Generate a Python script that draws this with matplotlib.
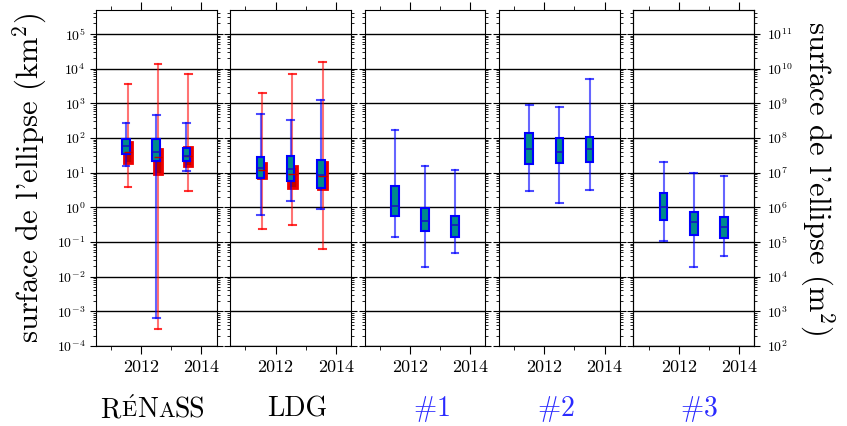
import numpy as np
import matplotlib
matplotlib.use("Agg")
import matplotlib.pyplot as plt
from matplotlib.ticker import LogLocator, FixedLocator, NullFormatter
from matplotlib.offsetbox import TextArea, HPacker, AnchoredOffsetbox

plt.rcParams['font.family'] = ['cmr10', 'DejaVu Serif']
plt.rcParams['mathtext.fontset'] = 'cm'
plt.rcParams['axes.formatter.use_mathtext'] = True

years = [2011.5, 2012.5, 2013.5]
panels = ['RENASS', 'LDG', '#1', '#2', '#3']

# blue series (per panel: one value per year)
blue_lo = [[15.6, 6.3e-4, 11.5], [0.60, 1.5, 0.87], [0.14, 0.0195, 0.047],
           [2.9, 1.3, 3.1], [0.11, 0.0195, 0.039]]
blue_q1 = [[34, 22, 21], [6.9, 5.9, 3.5], [0.56, 0.21, 0.14],
           [17.8, 19, 20.4], [0.44, 0.16, 0.13]]
blue_med = [[59, 39, 30], [13.5, 12.9, 8.4], [1.12, 0.41, 0.30],
            [49, 40, 47], [1.0, 0.38, 0.27]]
blue_q3 = [[91, 91, 50], [29, 29.5, 23], [4.1, 0.93, 0.57],
           [137, 102, 110], [2.6, 0.72, 0.53]]
blue_hi = [[265, 470, 275], [490, 330, 1230], [166, 16, 11.7],
           [910, 770, 5000], [20, 9.8, 8.2]]

# red series (only RéNaSS and LDG)
red_lo = [[3.8, 3.1e-4, 3.0], [0.24, 0.30, 0.063]]
red_q1 = [[19.5, 9.1, 16], [7.2, 3.5, 3.3]]
red_med = [[40, 28, 30], [12, 9, 8]]
red_q3 = [[76, 47, 55], [18.6, 15.5, 20]]
red_hi = [[3700, 1.4e4, 7200], [2000, 6900, 16000]]

ylo, yhi = 1e-4, 10**5.69


def stats(lo, q1, med, q3, hi):
    return [dict(whislo=a, q1=b, med=c, q3=d, whishi=e, fliers=[])
            for a, b, c, d, e in zip(lo, q1, med, q3, hi)]


fig, axes = plt.subplots(1, 5, sharey=True, figsize=(8.47, 4.26), dpi=100)
fig.subplots_adjust(left=96/847, right=754/847, top=1-10/426, bottom=1-346/426,
                    wspace=0.115)

for i, ax in enumerate(axes):
    ax.set_yscale('log')
    if i < 2:
        ax.bxp(stats(red_lo[i], red_q1[i], red_med[i], red_q3[i], red_hi[i]),
               positions=np.array(years) + 0.06, widths=0.27, patch_artist=True,
               showfliers=False,
               boxprops=dict(facecolor='#c00000', edgecolor='#ee0000', lw=2),
               whiskerprops=dict(color='red', alpha=0.55, lw=1.5),
               capprops=dict(color='red', alpha=0.8, lw=1.5),
               medianprops=dict(color='#c00000', lw=1),
               capwidths=0.22)
    ax.bxp(stats(blue_lo[i], blue_q1[i], blue_med[i], blue_q3[i], blue_hi[i]),
           positions=years, widths=0.25, patch_artist=True, showfliers=False,
           boxprops=dict(facecolor='#008b8b', edgecolor='blue', lw=1.5),
           whiskerprops=dict(color='blue', alpha=0.6, lw=1.5),
           capprops=dict(color='blue', alpha=0.7, lw=1.5),
           medianprops=dict(color='#1515c0', lw=1.2),
           capwidths=0.22)
    ax.set_xlim(2010.5, 2014.5)
    ax.set_ylim(ylo, yhi)
    ax.xaxis.set_major_locator(FixedLocator([2012, 2014]))
    ax.xaxis.set_minor_locator(FixedLocator([2011, 2013]))
    ax.set_xticklabels(['2012', '2014'])
    ax.yaxis.set_major_locator(LogLocator(base=10, numticks=30))
    ax.yaxis.set_minor_locator(LogLocator(base=10, subs=np.arange(2, 10), numticks=100))
    ax.yaxis.set_minor_formatter(NullFormatter())
    ax.grid(True, axis='y', which='major', color='k', lw=1)
    ax.set_axisbelow(True)
    ax.tick_params(axis='x', which='both', direction='out', top=True, labelsize=13)
    ax.tick_params(axis='x', which='major', length=6)
    ax.tick_params(axis='x', which='minor', length=3)
    ax.tick_params(axis='y', which='both', direction='out', right=True, labelsize=10)
    ax.tick_params(axis='y', which='major', length=4)
    ax.tick_params(axis='y', which='minor', length=2.5)

axes[0].set_ylabel(r"surface de l'ellipse $(\mathrm{km}^2)$", fontsize=22, labelpad=6)

tw = axes[-1].twinx()
tw.set_yscale('log')
tw.set_ylim(ylo * 1e6, yhi * 1e6)
tw.yaxis.set_major_locator(LogLocator(base=10, numticks=30))
tw.yaxis.set_minor_locator(LogLocator(base=10, subs=np.arange(2, 10), numticks=100))
tw.yaxis.set_minor_formatter(NullFormatter())
tw.tick_params(axis='y', which='both', direction='out', labelsize=10)
tw.tick_params(axis='y', which='major', length=4, pad=5)
tw.tick_params(axis='y', which='minor', length=2.5)
tw.set_ylabel(r"surface de l'ellipse $(\mathrm{m}^2)$", fontsize=22, rotation=270,
              labelpad=32)

# panel names under the axes (R, small É, N, small A, SS)
parts = [TextArea('R', textprops=dict(size=20)),
         TextArea(r'$\acute{\mathrm{E}}$', textprops=dict(size=16)),
         TextArea('N', textprops=dict(size=20)),
         TextArea('A', textprops=dict(size=16)),
         TextArea('SS', textprops=dict(size=20))]
box = HPacker(children=parts, align='baseline', pad=0, sep=0)
anch = AnchoredOffsetbox(loc='center', child=box, frameon=False,
                         bbox_to_anchor=(153/847, 1-409/426),
                         bbox_transform=fig.transFigure, pad=0, borderpad=0)
fig.add_artist(anch)
fig.text(297/847, 1-409/426, 'LDG', fontsize=20, ha='center', va='center')
for name, xc in zip(panels[2:], [431, 556, 699]):
    fig.text(xc/847, 1-409/426, r'$\#' + name[1:] + '$', fontsize=20,
             color='#2a2aff', ha='center', va='center')

fig.savefig('out.png', dpi=100)
